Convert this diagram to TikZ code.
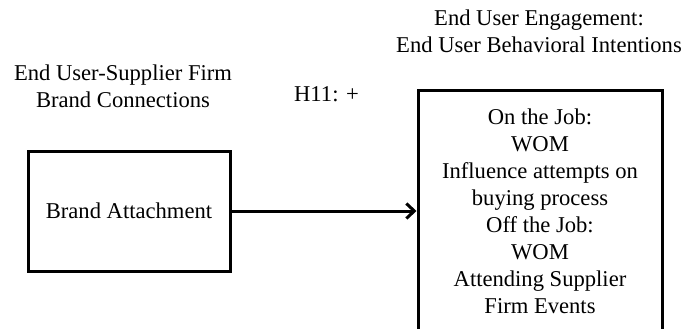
\documentclass[tikz,border=0pt]{standalone}
\usepackage{fontspec}
\setmainfont{Liberation Serif}
\usetikzlibrary{arrows.meta}

\tikzset{
  box/.style={draw=black, line width=3pt, rectangle, inner sep=0pt, align=center},
  lbl/.style={align=center, inner sep=0pt, font=\fontsize{22.6}{27}\selectfont},
  link/.style={line width=3pt, -{Straight Barb[length=8pt, width=15pt]}}
}

\begin{document}
\begin{tikzpicture}[x=1pt, y=-1pt]
  \clip (0,0) rectangle (686,329);
  \fill[white] (0,0) rectangle (686,329);

  % headings
  \node[lbl] (srcHead) at (123,86.5) {End User-Supplier Firm\\Brand Connections};
  \node[lbl] (dstHead) at (539,31.5) {End User Engagement:\\End User Behavioral Intentions};
  \node[lbl] (hyp) at (326.5,94) {H11: +};

  % antecedent construct
  \node[box, lbl, minimum width=202pt, minimum height=120pt] (attach) at (129,211)
    {Brand Attachment};

  % outcome construct (runs past the lower edge)
  \node[box, minimum width=244pt, minimum height=262pt, anchor=north] (engage) at (540,89) {};
  \node[lbl] (engText) at (540,211)
    {On the Job:\\WOM\\Influence attempts on\\buying process\\Off the Job:\\WOM\\Attending Supplier\\Firm Events};

  % hypothesised path
  \draw[link] (attach.east) -- (attach.east -| engage.west);
\end{tikzpicture}
\end{document}
